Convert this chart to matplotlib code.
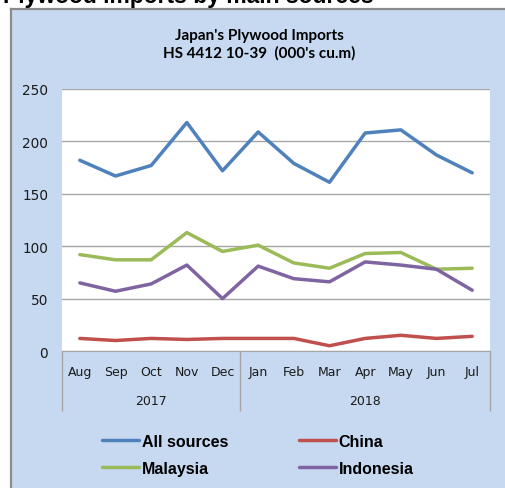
import matplotlib.pyplot as plt
from matplotlib.patches import Rectangle
from matplotlib.lines import Line2D

months = ["Aug", "Sep", "Oct", "Nov", "Dec", "Jan", "Feb", "Mar", "Apr", "May", "Jun", "Jul"]
years = ["2017", "2018"]

all_sources = [182, 167, 177, 218, 172, 209, 179, 161, 208, 211, 187, 170]
china = [12, 10, 12, 11, 12, 12, 12, 5, 12, 15, 12, 14]
malaysia = [92, 87, 87, 113, 95, 101, 84, 79, 93, 94, 78, 79]
indonesia = [65, 57, 64, 82, 50, 81, 69, 66, 85, 82, 78, 58]

W, H = 506, 489
fig = plt.figure(figsize=(W / 100, H / 100), dpi=100)

# light blue chart panel with grey frame on top and left
panel = Rectangle((11 / W, 0), 1, 1 - 10 / H, transform=fig.transFigure,
                  facecolor="#C6D9F1", edgecolor="none", zorder=-5)
fig.add_artist(panel)
fig.add_artist(Line2D([11 / W, 11 / W], [0, 1 - 10 / H], color="#8C8C8C", lw=1.6, zorder=-4))
fig.add_artist(Line2D([11 / W, 1], [1 - 10 / H, 1 - 10 / H], color="#8C8C8C", lw=1.6, zorder=-4))

fig.text(3 / W, 1 - 3.5 / H, "Plywood imports by main sources", family="Liberation Sans",
         weight="bold", size=16.5, va="baseline", ha="left")

fig.text(259.5 / W, 1 - 36 / H, "Japan's Plywood Imports", family="Lato", weight="bold",
         size=11, ha="center", va="center")
fig.text(259.5 / W, 1 - 53 / H, "HS 4412 10-39  (000's cu.m)", family="Lato", weight="bold",
         size=11, ha="center", va="center")

ax = fig.add_axes([62 / W, 137 / H, 428 / W, 262 / H])
ax.set_facecolor("white")
x = range(len(months))
style = dict(lw=2.5, solid_joinstyle="round", solid_capstyle="round")
l_all, = ax.plot(x, all_sources, color="#4F81BD", label="All sources", **style)
l_chn, = ax.plot(x, china, color="#C0504D", label="China", **style)
l_mys, = ax.plot(x, malaysia, color="#9BBB59", label="Malaysia", **style)
l_idn, = ax.plot(x, indonesia, color="#8064A2", label="Indonesia", **style)

ax.set_xlim(-0.5, 11.5)
ax.set_ylim(0, 250)
ax.set_yticks(range(0, 251, 50))
ax.yaxis.grid(True, color="#A6A6A6", lw=1)
ax.set_axisbelow(True)
for side in ["left", "right", "top"]:
    ax.spines[side].set_visible(False)
ax.spines["bottom"].set_color("#A6A6A6")
ax.tick_params(axis="y", length=0, pad=10, labelsize=9.8, labelcolor="#1a1a1a")
ax.set_xticks(list(x), months)
ax.tick_params(axis="x", length=0, pad=10, labelsize=9, labelcolor="#1a1a1a")

# second category level: years with separators
sec = ax.secondary_xaxis("bottom")
sec.set_xticks([-0.5, 4.5, 11.5], labels=["", "", ""])
sec.tick_params(axis="x", which="major", length=43, width=1, color="#A6A6A6")
sec.set_xticks([2, 8], labels=years, minor=True)
sec.tick_params(axis="x", which="minor", length=0, pad=31, labelsize=9, labelcolor="#1a1a1a")
sec.spines["bottom"].set_visible(False)

fig.legend([l_all, l_mys, l_chn, l_idn], ["All sources", "Malaysia", "China", "Indonesia"],
           ncol=2, loc="center", bbox_to_anchor=(258 / W, 33 / H), frameon=False,
           prop=dict(family="Liberation Sans", weight="bold", size=11.5),
           handlelength=2.3, handletextpad=0.2, columnspacing=4.4, labelspacing=0.75,
           borderpad=0)

fig.savefig("out.png", dpi=100)
